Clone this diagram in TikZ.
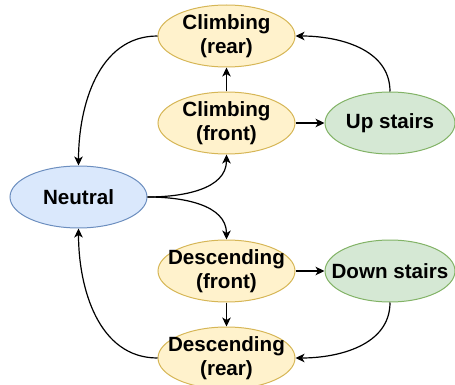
\documentclass[tikz,border=0pt]{standalone}
\usepackage{fontspec}
\setmainfont{Liberation Sans}
\usetikzlibrary{arrows.meta,shapes.geometric}

\definecolor{yellowfill}{HTML}{FFF2CC}
\definecolor{yellowline}{HTML}{D6B656}
\definecolor{greenfill}{HTML}{D5E8D4}
\definecolor{greenline}{HTML}{82B366}
\definecolor{bluefill}{HTML}{DAE8FC}
\definecolor{blueline}{HTML}{6C8EBF}

\tikzset{
  phase/.style={ellipse, line width=1pt, inner xsep=-16pt, inner ysep=-6pt,
    minimum width=137pt, minimum height=62pt, align=center,
    font=\bfseries\fontsize{20.6}{23.6}\selectfont},
  yellowphase/.style={phase, draw=yellowline, fill=yellowfill},
  greenphase/.style={phase, draw=greenline, fill=greenfill, minimum width=130pt},
  bluephase/.style={phase, draw=blueline, fill=bluefill},
  link/.style={-{Stealth[length=9pt,width=8.5pt,inset=2.5pt]}, line width=1.2pt}
}

\begin{document}
\begin{tikzpicture}[x=1pt,y=-1pt]
        \useasboundingbox (0,0) rectangle (455,385);

        % 绘制状态
        \node[bluephase] (neutral) at (78.5,197) {Neutral};
        \node[yellowphase] (crear) at (226.5,36) {Climbing\\(rear)};
        \node[yellowphase] (cfront) at (226.5,123) {Climbing\\(front)};
        \node[greenphase] (up) at (390,123) {Up stairs};
        \node[yellowphase] (dfront) at (226.5,271) {Descending\\(front)};
        \node[greenphase] (down) at (390,271) {Down stairs};
        \node[yellowphase] (drear) at (226.5,358) {Descending\\(rear)};

        % 绘制上楼的转移
        \draw[link] (neutral.east) to[out=0,in=-90] (cfront.south);
        \draw[link] (cfront.north) -- (crear.south);
        \draw[link] (cfront.east) -- (up.west);
        \draw[link] (up.north) to[out=90,in=0] (crear.east);
        \draw[link] (crear.west) to[out=180,in=90] (neutral.north);

        % 绘制下楼的转移
        \draw[link] (neutral.east) to[out=0,in=90] (dfront.north);
        \draw[link] (dfront.south) -- (drear.north);
        \draw[link] (dfront.east) -- (down.west);
        \draw[link] (down.south) to[out=-90,in=0] (drear.east);
        \draw[link] (drear.west) to[out=180,in=-90] (neutral.south);
    \end{tikzpicture}
\end{document}
